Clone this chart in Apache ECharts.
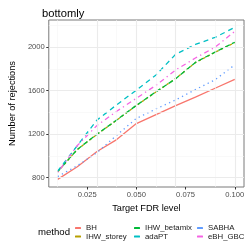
<!DOCTYPE html>
<html><head><meta charset="utf-8">
<script src="https://cdn.jsdelivr.net/npm/echarts@6/dist/echarts.min.js"></script>
<style>html,body{margin:0;padding:0;background:#fff}#c{width:249px;height:249px}</style>
</head><body><div id="c"></div>
<script>
const fdr = [0.01, 0.02, 0.03, 0.04, 0.05, 0.06, 0.07, 0.08, 0.09, 0.10];
const BH = [784, 900, 1040, 1150, 1297, 1380, 1462, 1540, 1622, 1704];
const IHW_storey = [853, 1058, 1198, 1328, 1463, 1588, 1712, 1858, 1953, 2042];
const IHW_betamix = [855, 1060, 1200, 1330, 1465, 1590, 1710, 1860, 1955, 2045];
const adaPT = [860, 1095, 1330, 1470, 1605, 1745, 1935, 2025, 2090, 2182];
const SABHA = [810, 910, 1030, 1190, 1345, 1432, 1515, 1610, 1700, 1838];
const eBH_GBC = [848, 1095, 1280, 1410, 1530, 1650, 1790, 1900, 2000, 2145];
const methods = ['BH', 'IHW_storey', 'IHW_betamix', 'adaPT', 'SABHA', 'eBH_GBC'];
const xTicks = [0.025, 0.05, 0.075, 0.1];
const xMinor = [0.0125, 0.0375, 0.0625, 0.0875];
const yTicks = [800, 1200, 1600, 2000];
const yMinor = [1000, 1400, 1800, 2200];

const seriesData = {BH, IHW_storey, IHW_betamix, adaPT, SABHA, eBH_GBC};
const colors = {BH:'#F8766D', IHW_storey:'#B79F00', IHW_betamix:'#00BA38', adaPT:'#00BFC4', SABHA:'#619CFF', eBH_GBC:'#F564E3'};
const dashes = {BH:'solid', IHW_storey:[2.5,2.5], IHW_betamix:[5,2.5], adaPT:[5,4], SABHA:[1.3,3.5], eBH_GBC:[1.3,3.5,5,3.5]};
const font = 'Liberation Sans';

const gridSeries = {
  name: 'grid', type: 'line', data: [], z: 1, silent: true,
  markLine: {
    silent: true, symbol: 'none', label: {show: false}, animation: false,
    data: [
      ...xMinor.map(v => ({xAxis: v, lineStyle: {color: '#F5F5F5', width: 0.6, type: 'solid'}})),
      ...yMinor.map(v => ({yAxis: v, lineStyle: {color: '#F5F5F5', width: 0.6, type: 'solid'}})),
      ...xTicks.map(v => ({xAxis: v, lineStyle: {color: '#EBEBEB', width: 1.1, type: 'solid'}})),
      ...yTicks.map(v => ({yAxis: v, lineStyle: {color: '#EBEBEB', width: 1.1, type: 'solid'}}))
    ]
  }
};

const lineSeries = methods.map(m => ({
  name: m, type: 'line', z: 3, showSymbol: false, symbol: 'none', animation: false,
  color: colors[m],
  lineStyle: {color: colors[m], width: 1.3, type: dashes[m]},
  data: fdr.map((x, i) => [x, seriesData[m][i]])
}));

const legendCommon = {
  orient: 'vertical', icon: 'roundRect', itemWidth: 6, itemHeight: 2, itemGap: 0.5,
  padding: 0, textStyle: {fontFamily: font, fontSize: 7.8, color: '#1a1a1a', lineHeight: 8}
};

const chart = echarts.init(document.getElementById('c'), null, {renderer: 'canvas'});
chart.setOption({
  backgroundColor: '#fff',
  animation: false,
  title: {text: 'bottomly', left: 37, top: 3, textStyle: {fontFamily: font, fontSize: 11.2, fontWeight: 'normal', color: '#000'}},
  grid: {left: 38, right: 5, top: 20, bottom: 62, show: true, borderColor: '#7a7a7a', borderWidth: 1, backgroundColor: 'transparent'},
  xAxis: {
    type: 'value', min: 0.0055, max: 0.1047,
    name: 'Target FDR level', nameLocation: 'middle', nameGap: 14,
    nameTextStyle: {fontFamily: font, fontSize: 9.2, color: '#000'},
    axisLine: {show: false}, splitLine: {show: false},
    axisTick: {show: true, length: 2.5, lineStyle: {color: '#333'}, customValues: xTicks},
    axisLabel: {fontFamily: font, fontSize: 7.6, color: '#4D4D4D', margin: 4, customValues: xTicks, formatter: v => v.toFixed(3)}
  },
  yAxis: {
    type: 'value', min: 714, max: 2250,
    name: 'Number of rejections', nameLocation: 'middle', nameGap: 27, nameRotate: 90,
    nameTextStyle: {fontFamily: font, fontSize: 9.2, color: '#000'},
    axisLine: {show: false}, splitLine: {show: false},
    axisTick: {show: true, length: 2.5, lineStyle: {color: '#333'}, customValues: yTicks},
    axisLabel: {fontFamily: font, fontSize: 7.6, color: '#4D4D4D', margin: 4, customValues: yTicks, formatter: v => String(Math.round(v))}
  },
  legend: [
    Object.assign({data: ['BH', 'IHW_storey'], left: 75, top: 224}, legendCommon),
    Object.assign({data: ['IHW_betamix', 'adaPT'], left: 134, top: 224}, legendCommon),
    Object.assign({data: ['SABHA', 'eBH_GBC'], left: 197, top: 224}, legendCommon)
  ],
  graphic: [{type: 'text', left: 38, top: 227, style: {text: 'method', fontFamily: font, fontSize: 9.6, fill: '#000'}}],
  series: [gridSeries, ...lineSeries]
});
</script></body></html>
